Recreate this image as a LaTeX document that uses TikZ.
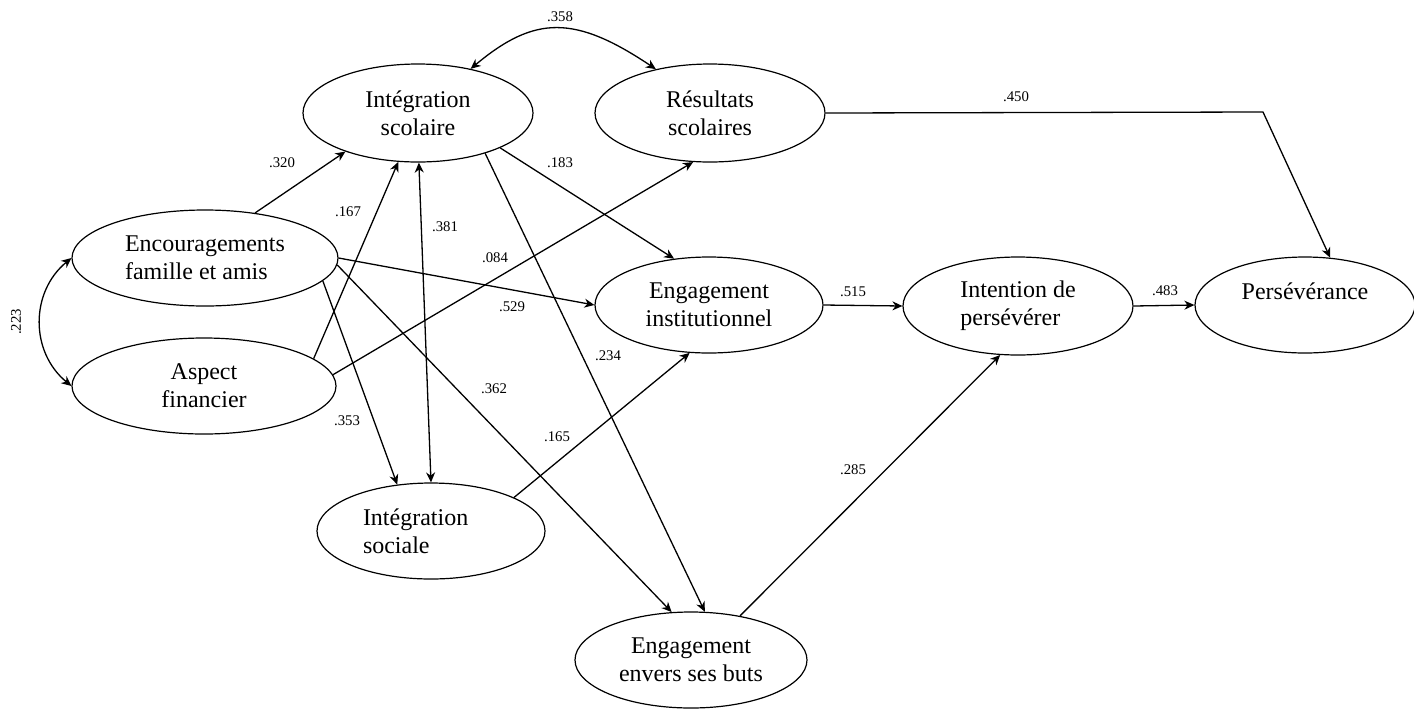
\documentclass[tikz,border=0pt]{standalone}
\usepackage{fontspec}
\setmainfont{Liberation Serif}
\usetikzlibrary{shapes.geometric,arrows.meta}
\begin{document}
\begin{tikzpicture}[x=0.5pt,y=-0.5pt,
  latent/.style={draw,ellipse,line width=0.6pt,inner sep=0pt,
    minimum width=115pt,minimum height=49pt,align=center,
    font=\fontsize{12}{14}\selectfont},
  tip/.tip={Stealth[length=5pt,width=4.5pt,inset=1.6pt]},
  effect/.style={line width=0.65pt,-tip},
  covar/.style={line width=0.65pt,tip-tip},
  coef/.style={inner sep=0pt,font=\fontsize{7.4}{8}\selectfont}]
\useasboundingbox (0,0) rectangle (1414,708);

% latent variables
\node[latent] (is) at (418,113) {Intégration\\scolaire};
\node[latent] (rs) at (710,113) {Résultats\\scolaires};
\node[latent,minimum width=133pt,minimum height=48pt,align=left] (enc) at (205,258) {Encouragements\\famille et amis};
\node[latent,minimum width=132pt,minimum height=48pt] (af) at (204,386) {Aspect\\financier};
\node[latent,minimum width=114pt,minimum height=48pt] (ei) at (709,305) {Engagement\\institutionnel};
\node[latent,align=left] (ip) at (1018,306) {Intention de\\persévérer};
\node[latent,minimum width=110pt,minimum height=48pt] (pe) at (1305,305) {Persévérance\\\mbox{}};
\node[latent,minimum width=114pt,minimum height=48pt,align=left] (iso) at (431,531) {\makebox[68pt][l]{Intégration}\\sociale};
\node[latent,minimum width=116pt,minimum height=48pt] (eb) at (691,660) {Engagement\\envers ses buts};

% bend point of the path to perseverance
\coordinate (k450) at (1263,112);

% correlations
\draw[covar] (is.40) .. controls (535,15) and (575,15) .. (rs.141);
\draw[covar] (enc.west) .. controls (30,292) and (30,352) .. (af.west);
\draw[covar] (is.271) -- (iso.90);

% structural paths
\draw[effect] (rs.east) -- (k450) -- (pe.62);
\draw[effect] (enc.42) -- (is.208);
\draw[effect] (af.14) -- (is.248);
\draw[effect] (af.5) -- (rs.251);
\draw[effect] (is.-23) -- (ei.127);
\draw[effect] (enc.east) -- (ei.west);
\draw[effect] (enc.-3) -- (eb.112);
\draw[effect] (enc.-11) -- (iso.126);
\draw[effect] (is.-31) -- (eb.74);
\draw[effect] (iso.22) -- (ei.248);
\draw[effect] (eb.42) -- (ip.250);
\draw[effect] (ei.east) -- (ip.west);
\draw[effect] (ip.east) -- (pe.west);

% coefficients
\node[coef] (c358) at (560,17) {.358};
\node[coef] (c450) at (1016,97) {.450};
\node[coef] (c320) at (282,163) {.320};
\node[coef] (c183) at (560,163) {.183};
\node[coef] (c167) at (348,212) {.167};
\node[coef] (c381) at (445,227) {.381};
\node[coef] (c084) at (495,258) {.084};
\node[coef] (c529) at (512,307) {.529};
\node[coef] (c515) at (853,292) {.515};
\node[coef] (c483) at (1165,291) {.483};
\node[coef,rotate=90] (c223) at (16,322) {.223};
\node[coef] (c234) at (608,356) {.234};
\node[coef] (c362) at (494,389) {.362};
\node[coef] (c353) at (347,421) {.353};
\node[coef] (c165) at (557,437) {.165};
\node[coef] (c285) at (853,470) {.285};
\end{tikzpicture}
\end{document}
